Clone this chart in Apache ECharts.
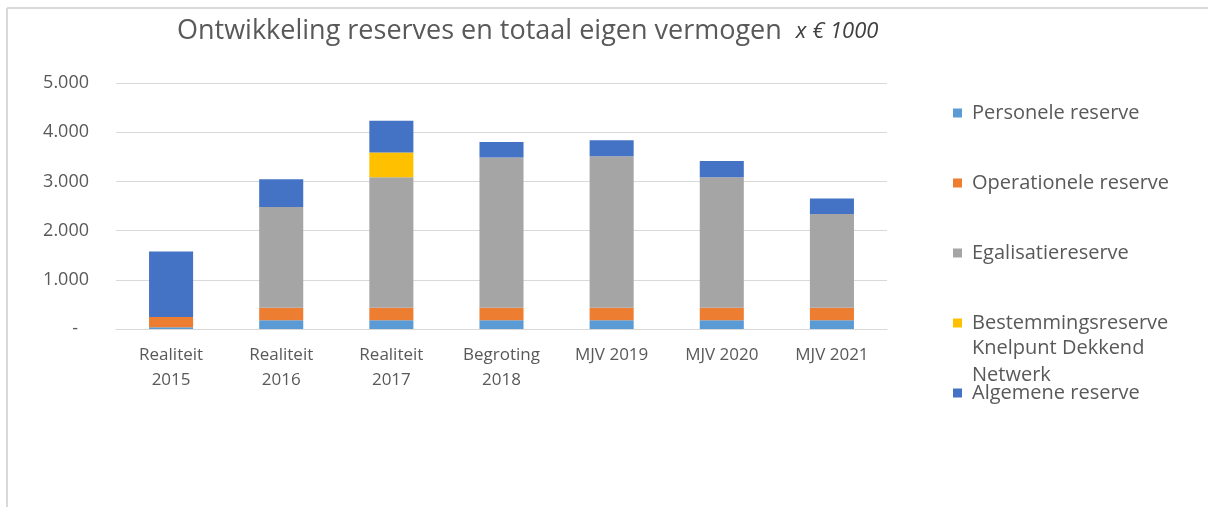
<!DOCTYPE html>
<html>
<head>
<meta charset="utf-8">
<script src="https://cdn.jsdelivr.net/npm/echarts@6/dist/echarts.min.js"></script>
<style>
html,body{margin:0;padding:0;background:#fff;}
#chart{width:1208px;height:507px;}
</style>
</head>
<body>
<div id="chart"></div>
<script>
var categories = ['Realiteit\n2015','Realiteit\n2016','Realiteit\n2017','Begroting\n2018','MJV 2019','MJV 2020','MJV 2021'];
var personele = [35, 180, 180, 180, 180, 180, 180];
var operationele = [210, 250, 250, 250, 250, 250, 250];
var egalisatie = [0, 2050, 2655, 3055, 3080, 2655, 1905];
var bestemming = [0, 0, 500, 0, 0, 0, 0];
var algemene = [1330, 565, 650, 315, 325, 330, 315];
var seriesNames = ['Personele reserve','Operationele reserve','Egalisatiereserve','Bestemmingsreserve Knelpunt Dekkend Netwerk','Algemene reserve'];
var colors = ['#5B9BD5','#ED7D31','#A5A5A5','#FFC000','#4472C4'];
var values = [personele, operationele, egalisatie, bestemming, algemene];

var FONT = 'Open Sans';
var chart = echarts.init(document.getElementById('chart'));
var series = seriesNames.map(function(n,i){
  return {
    name: n, type: 'bar', stack: 'total', data: values[i],
    barWidth: '40%',
    itemStyle: {color: colors[i]},
    emphasis: {disabled: true}
  };
});
chart.setOption({
  animation: false,
  textStyle: {fontFamily: FONT},
  title: {
    text: '{a|Ontwikkeling reserves en totaal eigen vermogen}   {b|x € 1000}',
    left: 172, top: 13,
    textStyle: {
      fontWeight: 'normal',
      rich: {
        a: {fontFamily: FONT, fontSize: 27, fontWeight: 'normal', color: '#595959'},
        b: {fontFamily: FONT, fontSize: 22, fontStyle: 'italic', fontWeight: 'normal', color: '#404040'}
      }
    }
  },
  grid: {left: 116, right: 321, top: 83, bottom: 178},
  xAxis: {
    type: 'category', data: categories,
    axisLine: {lineStyle: {color: '#d9d9d9', width: 1}},
    axisTick: {show: false},
    axisLabel: {color: '#595959', fontSize: 17, lineHeight: 25, margin: 14, fontFamily: FONT, interval: 0}
  },
  yAxis: {
    type: 'value', min: 0, max: 5000, interval: 1000,
    axisLine: {show: false}, axisTick: {show: false},
    splitLine: {lineStyle: {color: '#d9d9d9', width: 1}},
    axisLabel: {
      color: '#595959', fontSize: 18, margin: 27, fontFamily: FONT,
      rich: {d: {fontSize: 18, color: '#595959', padding: [0, 11, 0, 0]}},
      formatter: function(v){
        if (v === 0) return '{d|-}';
        var s = String(v);
        return s.replace(/\B(?=(\d{3})+(?!\d))/g, '.');
      }
    }
  },
  legend: {
    orient: 'vertical', left: 948, top: 97,
    itemWidth: 9, itemHeight: 9, itemGap: 48,
    icon: 'rect',
    data: seriesNames,
    textStyle: {color: '#595959', fontSize: 20, lineHeight: 22, fontFamily: FONT, padding: [0,0,0,5]},
    formatter: function(n){ return n === seriesNames[3] ? 'Bestemmingsreserve' : n; },
    selectedMode: false
  },
  graphic: [
    {type: 'text', left: 972, top: 335, style: {text: 'Knelpunt Dekkend\nNetwerk', fill: '#595959', font: '20px "Open Sans"', lineHeight: 27}},
    {type: 'line', shape: {x1: 7, y1: 8, x2: 1208, y2: 8}, style: {stroke: '#d9d9d9', lineWidth: 2}},
    {type: 'line', shape: {x1: 7, y1: 8, x2: 7, y2: 507}, style: {stroke: '#d9d9d9', lineWidth: 2}}
  ],
  series: series
});
</script>
</body>
</html>
